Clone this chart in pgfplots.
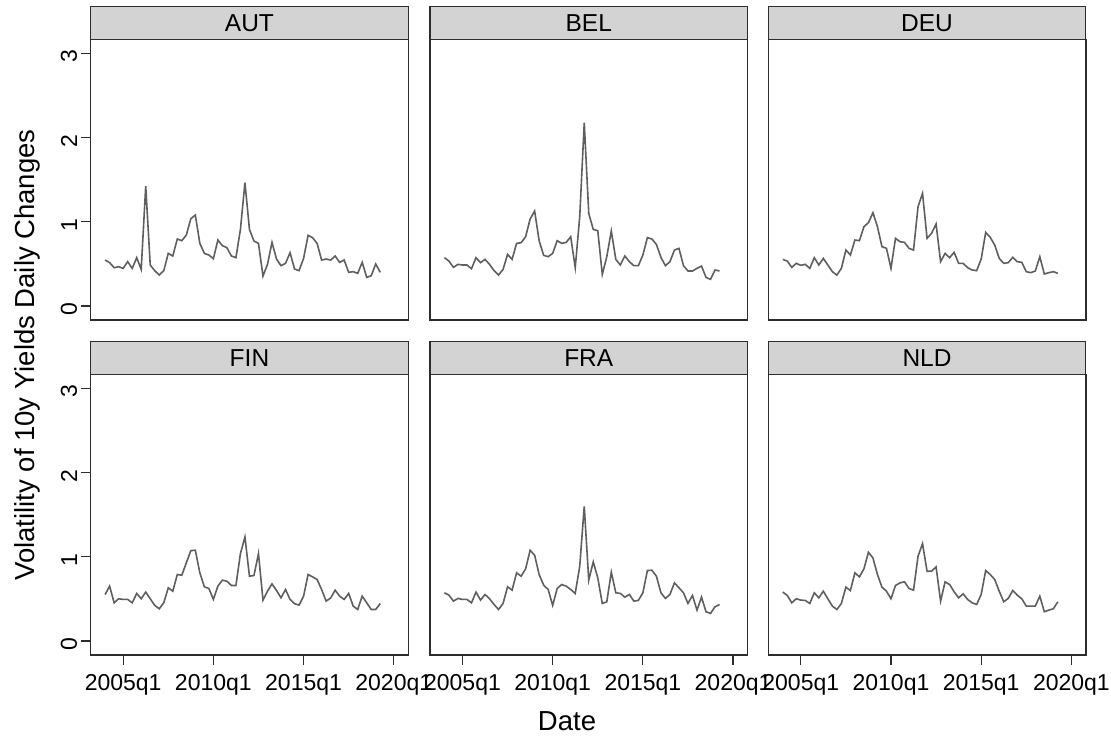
\documentclass[border=0pt]{standalone}
\usepackage{pgfplots}
\pgfplotsset{compat=1.18}
\usepackage{pgfplotstable}
\usepackage{fontspec}
\setmainfont{Liberation Sans}
\definecolor{hdr}{RGB}{211,211,211}
\definecolor{ln}{RGB}{95,95,95}
\definecolor{frm}{RGB}{45,45,45}
\pgfplotstableread{
date AUT BEL DEU FIN FRA NLD
2004.00 0.546 0.574 0.554 0.553 0.573 0.581
2004.25 0.515 0.534 0.534 0.652 0.545 0.541
2004.50 0.455 0.459 0.459 0.454 0.474 0.454
2004.75 0.467 0.495 0.507 0.502 0.506 0.502
2005.00 0.447 0.487 0.483 0.494 0.494 0.486
2005.25 0.527 0.487 0.495 0.494 0.494 0.482
2005.50 0.447 0.443 0.447 0.454 0.454 0.446
2005.75 0.574 0.574 0.574 0.565 0.581 0.573
2006.00 0.435 0.515 0.487 0.502 0.486 0.513
2006.25 1.425 0.554 0.566 0.581 0.553 0.592
2006.50 0.487 0.495 0.487 0.502 0.502 0.502
2006.75 0.420 0.420 0.408 0.423 0.434 0.415
2007.00 0.368 0.368 0.368 0.383 0.375 0.375
2007.25 0.420 0.435 0.447 0.454 0.446 0.446
2007.50 0.625 0.614 0.665 0.632 0.644 0.640
2007.75 0.594 0.554 0.606 0.592 0.604 0.600
2008.00 0.796 0.744 0.784 0.790 0.810 0.810
2008.25 0.776 0.752 0.776 0.782 0.770 0.762
2008.50 0.843 0.823 0.942 0.928 0.857 0.857
2008.75 1.037 1.033 0.990 1.074 1.078 1.054
2009.00 1.081 1.128 1.108 1.078 1.019 0.987
2009.25 0.744 0.776 0.942 0.810 0.790 0.790
2009.50 0.625 0.602 0.705 0.644 0.664 0.640
2009.75 0.606 0.586 0.685 0.624 0.612 0.592
2010.00 0.562 0.625 0.447 0.494 0.423 0.502
2010.25 0.784 0.776 0.804 0.652 0.624 0.660
2010.50 0.717 0.744 0.764 0.723 0.671 0.691
2010.75 0.693 0.756 0.756 0.710 0.652 0.703
2011.00 0.594 0.823 0.685 0.660 0.612 0.624
2011.25 0.574 0.455 0.665 0.660 0.565 0.604
2011.50 0.910 1.061 1.180 1.039 0.889 1.007
2011.75 1.465 2.177 1.338 1.236 1.600 1.157
2012.00 0.910 1.100 0.804 0.770 0.723 0.829
2012.25 0.772 0.910 0.863 0.778 0.940 0.829
2012.50 0.744 0.895 0.974 1.039 0.750 0.881
2012.75 0.356 0.376 0.527 0.486 0.446 0.474
2013.00 0.495 0.586 0.625 0.592 0.466 0.703
2013.25 0.756 0.891 0.574 0.679 0.818 0.671
2013.50 0.558 0.554 0.637 0.600 0.573 0.585
2013.75 0.479 0.487 0.507 0.513 0.565 0.513
2014.00 0.507 0.594 0.507 0.612 0.521 0.561
2014.25 0.633 0.527 0.455 0.494 0.553 0.494
2014.50 0.439 0.479 0.428 0.443 0.474 0.454
2014.75 0.420 0.479 0.420 0.427 0.482 0.434
2015.00 0.566 0.606 0.558 0.533 0.573 0.553
2015.25 0.839 0.812 0.875 0.790 0.837 0.837
2015.50 0.812 0.796 0.816 0.762 0.841 0.790
2015.75 0.744 0.732 0.724 0.731 0.770 0.731
2016.00 0.546 0.578 0.566 0.612 0.573 0.592
2016.25 0.558 0.479 0.507 0.474 0.506 0.466
2016.50 0.546 0.527 0.515 0.510 0.553 0.506
2016.75 0.594 0.665 0.578 0.604 0.691 0.600
2017.00 0.519 0.685 0.527 0.533 0.632 0.545
2017.25 0.546 0.479 0.519 0.494 0.573 0.502
2017.50 0.400 0.416 0.408 0.565 0.446 0.415
2017.75 0.408 0.416 0.396 0.415 0.541 0.415
2018.00 0.388 0.447 0.416 0.375 0.367 0.415
2018.25 0.519 0.475 0.586 0.533 0.521 0.533
2018.50 0.340 0.340 0.380 0.454 0.348 0.348
2018.75 0.360 0.317 0.396 0.375 0.328 0.367
2019.00 0.499 0.428 0.408 0.375 0.407 0.383
2019.25 0.400 0.416 0.388 0.446 0.434 0.466
}\data
\pgfplotsset{
  panel/.style={
    scale only axis, width=317.5pt, height=280.5pt,
    xmin=2003.2, xmax=2020.8, ymin=-0.166, ymax=3.166,
    axis line style={draw=frm, line width=1.4pt},
    tick style={draw=frm, line width=1.2pt},
    tick align=outside, major tick length=10pt,
    xtick pos=bottom, ytick pos=left,
    xtick={2005,2010,2015,2020},
    xticklabels={2005q1,2010q1,2015q1,2020q1},
    ytick={0,1,2,3},
    yticklabel style={rotate=90, anchor=south, xshift=-3pt},
    xticklabel style={yshift=-6pt},
    tick label style={font=\fontsize{23}{23}\selectfont},
    /pgf/number format/assume math mode=true,
    every axis title/.style={at={(0.5,1)}, anchor=south, draw=frm, line width=1.2pt,
      fill=hdr, minimum width=317.5pt, minimum height=33pt, inner sep=0pt, outer sep=0pt,
      font=\fontsize{24.5}{24.5}\selectfont},
    clip=true,
  },
  noy/.style={ytick=\empty},
  nox/.style={xtick=\empty},
}
\begin{document}
\begin{tikzpicture}
\useasboundingbox (0pt,0pt) rectangle (1111pt,738pt);
% top row
\begin{axis}[panel, nox, at={(90.7pt,418pt)}, anchor=south west, title={AUT}]
\addplot[color=ln, line width=1.6pt] table[x=date, y=AUT] {\data};
\end{axis}
\begin{axis}[panel, nox, noy, at={(430pt,418pt)}, anchor=south west, title={BEL}]
\addplot[color=ln, line width=1.6pt] table[x=date, y=BEL] {\data};
\end{axis}
\begin{axis}[panel, nox, noy, at={(768.3pt,418pt)}, anchor=south west, title={DEU}]
\addplot[color=ln, line width=1.6pt] table[x=date, y=DEU] {\data};
\end{axis}
% bottom row
\begin{axis}[panel, at={(90.7pt,83pt)}, anchor=south west, title={FIN}]
\addplot[color=ln, line width=1.6pt] table[x=date, y=FIN] {\data};
\end{axis}
\begin{axis}[panel, noy, at={(430pt,83pt)}, anchor=south west, title={FRA}]
\addplot[color=ln, line width=1.6pt] table[x=date, y=FRA] {\data};
\end{axis}
\begin{axis}[panel, noy, at={(768.3pt,83pt)}, anchor=south west, title={NLD}]
\addplot[color=ln, line width=1.6pt] table[x=date, y=NLD] {\data};
\end{axis}
\node[rotate=90, anchor=base, font=\fontsize{27.5}{27.5}\selectfont] at (34pt,383pt) {Volatility of 10y Yields Daily Changes};
\node[anchor=base, font=\fontsize{27.5}{27.5}\selectfont] at (567pt,7.3pt) {Date};
\end{tikzpicture}
\end{document}
